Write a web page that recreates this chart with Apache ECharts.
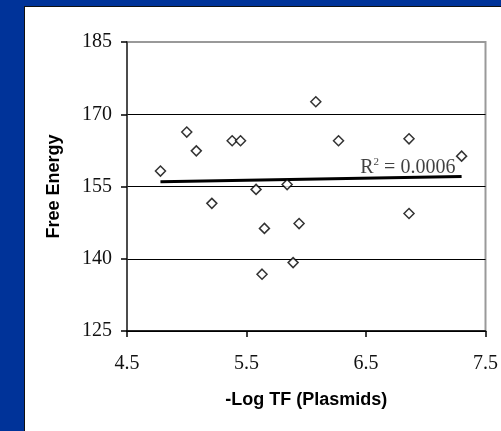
<!DOCTYPE html>
<html lang="en">
<head>
    <meta charset="UTF-8">
    <title>Free Energy vs -Log TF</title>
    <script src="https://cdn.jsdelivr.net/npm/echarts@6/dist/echarts.min.js"></script>
    <style>
        html, body { margin: 0; padding: 0; }
        body { width: 501px; height: 431px; background: #003399; position: relative; overflow: hidden; }
        #panel { position: absolute; left: 24px; top: 6px; width: 477px; height: 425px;
                 background: #fff; border-left: 1px solid #111; border-top: 1px solid #111; box-sizing: border-box; }
        #chart { position: absolute; left: 0; top: 0; width: 501px; height: 431px; }
    </style>
</head>
<body>
<div id="panel"></div>
<div id="chart"></div>
<script>
    // scatter points: -Log TF and free energy
    const logTF = [4.78, 5.00, 5.08, 5.21, 5.38, 5.45, 5.58, 5.65, 5.63, 5.84, 5.89, 5.94, 6.08, 6.27, 6.86, 6.86, 7.30];
    const freeEnergy = [158.2, 166.3, 162.4, 151.5, 164.5, 164.5, 154.4, 146.3, 136.8, 155.4, 139.2, 147.3, 172.6, 164.5, 164.9, 149.4, 161.3];
    // linear trend line end points
    const trendX = [4.78, 7.30];
    const trendY = [156.0, 157.1];
    const r2Text = '0.0006';
    const r2Pos = [6.85, 158.9];

    const serif = '"Liberation Serif", "Times New Roman", serif';
    const sans = '"Liberation Sans", Arial, sans-serif';

    const points = logTF.map((x, i) => [x, freeEnergy[i]]);
    const trend = trendX.map((x, i) => [x, trendY[i]]);

    const chart = echarts.init(document.getElementById('chart'));
    chart.setOption({
        animation: false,
        grid: {
            left: 127, right: 15, top: 42, bottom: 100,
            show: true, borderColor: '#999', borderWidth: 2, backgroundColor: 'transparent'
        },
        xAxis: {
            type: 'value', min: 4.5, max: 7.5, interval: 1,
            name: '-Log TF (Plasmids)', nameLocation: 'middle', nameGap: 60,
            nameTextStyle: {fontFamily: sans, fontWeight: 'bold', fontSize: 18, color: '#000'},
            axisLine: {show: true, lineStyle: {color: '#000', width: 1.5}},
            axisTick: {show: true, length: 6, lineStyle: {color: '#000', width: 1.5}},
            axisLabel: {fontFamily: serif, fontSize: 20, color: '#111', margin: 23,
                formatter: v => v.toFixed(1)},
            splitLine: {show: false}
        },
        yAxis: {
            type: 'value', min: 125, max: 185, interval: 15,
            name: 'Free Energy', nameLocation: 'middle', nameGap: 64, nameRotate: 90,
            nameTextStyle: {fontFamily: sans, fontWeight: 'bold', fontSize: 18, color: '#000'},
            axisLine: {show: true, lineStyle: {color: '#333', width: 1.5}},
            axisTick: {show: true, length: 6, lineStyle: {color: '#000', width: 1.5}},
            axisLabel: {fontFamily: serif, fontSize: 20, color: '#111', margin: 15},
            splitLine: {show: true, lineStyle: {color: ['#000', '#000', '#000', '#000', '#999'], width: 1}}
        },
        series: [
            {
                type: 'scatter',
                data: points,
                symbol: 'diamond',
                symbolSize: 10,
                itemStyle: {color: '#fff', borderColor: '#000', borderWidth: 1.5},
                z: 3
            },
            {
                type: 'line',
                data: trend,
                showSymbol: false,
                lineStyle: {color: '#000', width: 3},
                z: 2
            },
            {
                type: 'scatter',
                data: [r2Pos],
                symbolSize: 0,
                silent: true,
                label: {
                    show: true, position: 'inside',
                    formatter: '{a|R}{b|2}{a| = ' + r2Text + '}',
                    rich: {
                        a: {fontFamily: serif, fontSize: 20, color: '#111', lineHeight: 22},
                        b: {fontFamily: serif, fontSize: 11, color: '#111', verticalAlign: 'top', lineHeight: 22}
                    }
                }
            }
        ]
    });
</script>
</body>
</html>
